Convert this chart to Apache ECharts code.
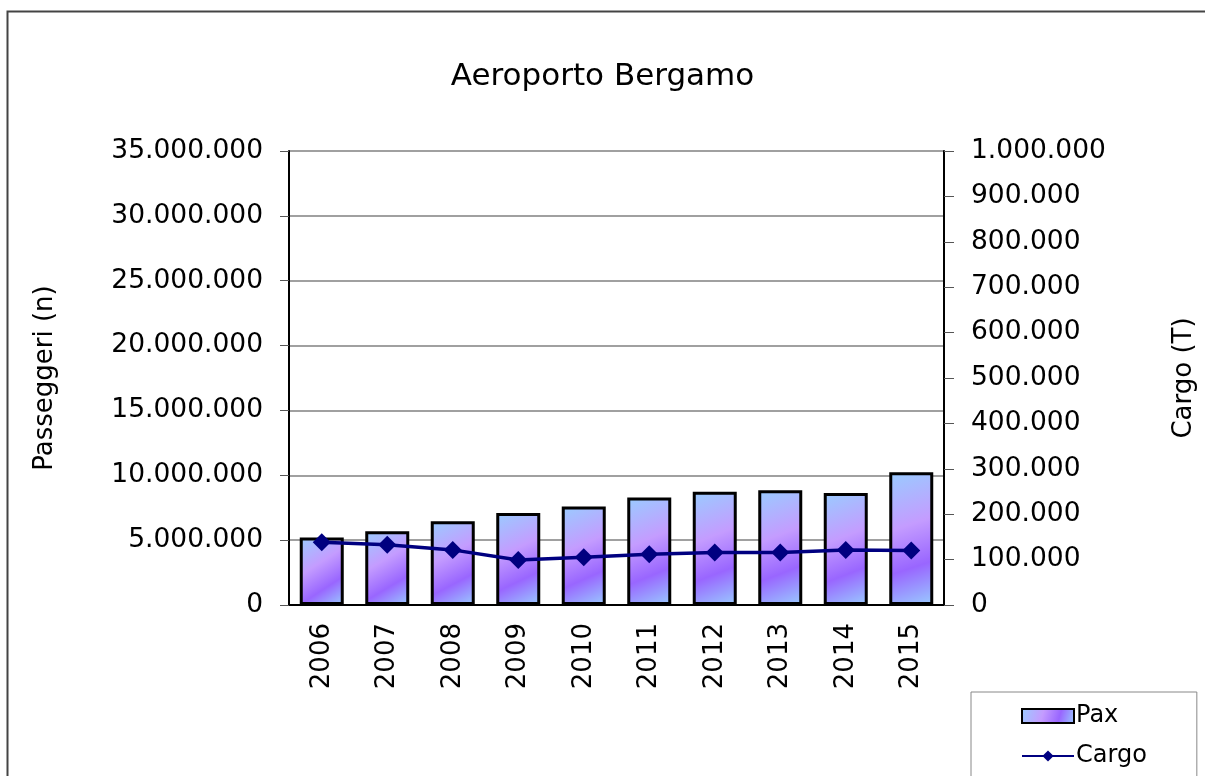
<!DOCTYPE html>
<html>
<head>
<meta charset="utf-8">
<script src="https://cdn.jsdelivr.net/npm/echarts@6/dist/echarts.min.js"></script>
<style>
  html, body { margin: 0; padding: 0; background: #fff; }
  #chart { width: 1205px; height: 776px; }
</style>
</head>
<body>
<div id="chart"></div>
<script>
// dati
const years = ['2006', '2007', '2008', '2009', '2010', '2011', '2012', '2013', '2014', '2015'];
const pax = [5210000, 5690000, 6460000, 7100000, 7590000, 8280000, 8740000, 8850000, 8640000, 10230000];
const cargo = [138400, 132500, 121400, 99300, 105300, 111900, 115500, 115500, 121400, 119900];

// formato italiano con punto come separatore delle migliaia
function fmt(v) {
  return String(Math.round(v)).replace(/\B(?=(\d{3})+(?!\d))/g, '.');
}

const font = 'DejaVu Sans';
const chart = echarts.init(document.getElementById('chart'));

const barFill = new echarts.graphic.LinearGradient(0, 0, 1, 1, [
  { offset: 0, color: '#99ccff' },
  { offset: 0.4, color: '#c49cff' },
  { offset: 0.7, color: '#9966ff' },
  { offset: 1, color: '#99ccff' }
]);

chart.setOption({
  animation: false,
  backgroundColor: '#fff',
  title: {
    text: 'Aeroporto Bergamo',
    left: 'center',
    top: 56,
    textStyle: { fontFamily: font, fontSize: 31, fontWeight: 'normal', color: '#000' }
  },
  graphic: [{
    type: 'rect',
    z: -10,
    shape: { x: 7.5, y: 11.5, width: 1300, height: 900 },
    style: { fill: 'none', stroke: '#444', lineWidth: 2 }
  }],
  legend: {
    orient: 'vertical',
    left: 971,
    top: 692,
    height: 120,
    padding: [12, 50, 30, 50],
    itemGap: 16,
    itemWidth: 52,
    itemHeight: 14,
    borderColor: '#888',
    borderWidth: 1,
    backgroundColor: '#fff',
    textStyle: { fontFamily: font, fontSize: 24, color: '#000', padding: [0, 0, 0, -3] },
    data: [{ name: 'Pax', icon: 'rect' }, { name: 'Cargo' }]
  },
  grid: { left: 289, right: 259, top: 151, bottom: 171 },
  xAxis: {
    type: 'category',
    data: years,
    axisLine: { lineStyle: { color: '#000', width: 2 } },
    axisTick: { alignWithLabel: false, length: 10, lineStyle: { color: '#888', width: 2 } },
    axisLabel: { rotate: 90, margin: 18, fontFamily: font, fontSize: 26, color: '#000' }
  },
  yAxis: [{
    type: 'value',
    min: 0,
    max: 35000000,
    interval: 5000000,
    name: 'Passeggeri (n)',
    nameLocation: 'middle',
    nameGap: 231,
    nameTextStyle: { fontFamily: font, fontSize: 26, color: '#000' },
    axisLine: { show: true, lineStyle: { color: '#000', width: 2 } },
    axisTick: { show: true, length: 9, lineStyle: { color: '#555' } },
    splitLine: { lineStyle: { color: '#808080', width: 1.5 } },
    axisLabel: { margin: 26, fontFamily: font, fontSize: 26.5, color: '#000', formatter: fmt }
  }, {
    type: 'value',
    min: 0,
    max: 1000000,
    interval: 100000,
    name: 'Cargo (T)',
    nameLocation: 'middle',
    nameGap: 227,
    nameTextStyle: { fontFamily: font, fontSize: 26, color: '#000' },
    axisLine: { show: true, lineStyle: { color: '#000', width: 2 } },
    axisTick: { show: true, length: 10, lineStyle: { color: '#555' } },
    splitLine: { show: false },
    axisLabel: { margin: 27, fontFamily: font, fontSize: 26.5, color: '#000', formatter: fmt }
  }],
  series: [{
    name: 'Pax',
    type: 'bar',
    data: pax,
    barWidth: 44,
    itemStyle: { color: barFill, borderColor: '#000', borderWidth: 3, borderRadius: 0 }
  }, {
    name: 'Cargo',
    type: 'line',
    yAxisIndex: 1,
    data: cargo,
    symbol: 'diamond',
    symbolSize: 18,
    z: 5,
    itemStyle: { color: '#000080' },
    lineStyle: { color: '#000080', width: 3.5 }
  }]
});
</script>
</body>
</html>
